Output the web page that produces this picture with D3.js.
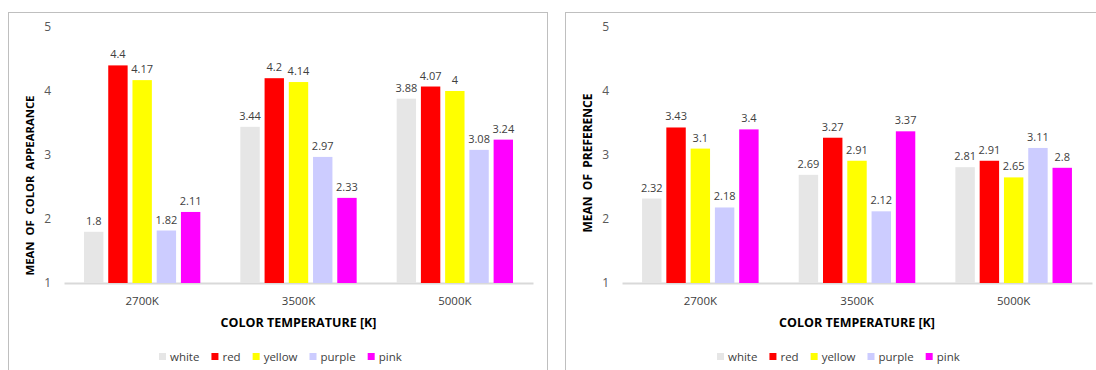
<!DOCTYPE html>
<html><head><meta charset="utf-8">
<script src="https://cdn.jsdelivr.net/npm/d3@7"></script>
<style>
body{margin:0;background:#fff;}
svg{display:block;font-family:"Open Sans",sans-serif;}
</style></head>
<body>
<svg id="c" width="1096" height="370"></svg>
<script>
const categories = ["2700K","3500K","5000K"];
const seriesNames = ["white","red","yellow","purple","pink"];
const seriesColors = ["#e6e6e6","#ff0000","#ffff00","#ccccff","#ff00ff"];
const appearance = [
  [1.8, 3.44, 3.88],   // white
  [4.4, 4.2, 4.07],    // red
  [4.17, 4.14, 4],     // yellow
  [1.82, 2.97, 3.08],  // purple
  [2.11, 2.33, 3.24]   // pink
];
const preference = [
  [2.32, 2.69, 2.81],
  [3.43, 3.27, 2.91],
  [3.1, 2.91, 2.65],
  [2.18, 2.12, 3.11],
  [3.4, 3.37, 2.8]
];
const yTicks = [1,2,3,4,5];
const xTitle = "COLOR TEMPERATURE [K]";
const yTitles = ["MEAN  OF  COLOR  APPEARANCE","MEAN  OF  PREFERENCE"];

const svg = d3.select("#c");

function panel(px, pw, plotX0, plotX1, data, yTitle, yTitleCenter, yTitleSize){
  const g = svg.append("g");
  g.append("rect").attr("x",px+0.5).attr("y",12.5).attr("width",pw).attr("height",370)
    .attr("fill","none").attr("stroke","#bfbfbf").attr("stroke-width",1);
  const y = d3.scaleLinear().domain([1,5]).range([283,27]);
  const x0 = d3.scaleBand().domain(categories).range([plotX0,plotX1]).paddingInner(0).paddingOuter(0);
  const bw = x0.bandwidth();
  const x1 = d3.scaleBand().domain(seriesNames).range([bw*0.128, bw*0.872]).paddingInner(0.2);
  // y axis labels
  const ya = g.append("g").attr("transform",`translate(${plotX0-13},0)`)
    .call(d3.axisLeft(y).tickValues(yTicks).tickSize(0).tickPadding(0).tickFormat(d3.format("d")));
  ya.select(".domain").remove();
  ya.selectAll("text").attr("fill","#595959").style("font-size","12px").style("font-family","Open Sans");
  // x axis
  const xa = g.append("g").attr("transform","translate(0,283)")
    .call(d3.axisBottom(x0).tickSize(0).tickPadding(14));
  xa.select(".domain").attr("stroke","#d9d9d9").attr("stroke-width",2);
  xa.selectAll("text").attr("fill","#404040").style("font-size","11.5px").style("font-family","Open Sans");
  // bars
  seriesNames.forEach((s,si)=>{
    const sg = g.append("g");
    sg.selectAll("rect").data(data[si]).join("rect")
      .attr("x",(d,i)=>x0(categories[i])+x1(s))
      .attr("y",d=>y(d)).attr("width",x1.bandwidth()).attr("height",d=>y(1)-y(d))
      .attr("fill",seriesColors[si]);
    sg.selectAll("text").data(data[si]).join("text")
      .attr("x",(d,i)=>x0(categories[i])+x1(s)+x1.bandwidth()/2)
      .attr("y",d=>y(d)-7).attr("text-anchor","middle")
      .attr("fill","#404040").style("font-size","11px").text(d=>d);
  });
  // axis titles
  g.append("text").attr("x",(plotX0+plotX1)/2).attr("y",327).attr("text-anchor","middle")
    .attr("fill","#000").style("font-size","12.5px").style("font-weight","bold").text(xTitle);
  g.append("text").attr("transform",`translate(${plotX0-30},${yTitleCenter}) rotate(-90)`)
    .attr("text-anchor","middle").attr("fill","#000").style("font-size",yTitleSize+"px")
    .style("font-weight","bold").style("white-space","pre").text(yTitle);
  // legend
  const lg = g.append("g").attr("transform",`translate(${plotX0+95},357)`);
  let cx = 0;
  seriesNames.forEach((s,si)=>{
    lg.append("rect").attr("x",cx).attr("y",-4).attr("width",7).attr("height",7).attr("fill",seriesColors[si]);
    const t = lg.append("text").attr("x",cx+11).attr("y",4).attr("fill","#404040")
      .style("font-size","11.5px").text(s);
    cx += 11 + t.node().getComputedTextLength() + 12;
  });
}
panel(8, 539, 64, 533, appearance, yTitles[0], 185.5, 11.3);
panel(565, 540, 622, 1092, preference, yTitles[1], 163, 12);
</script>
</body></html>
